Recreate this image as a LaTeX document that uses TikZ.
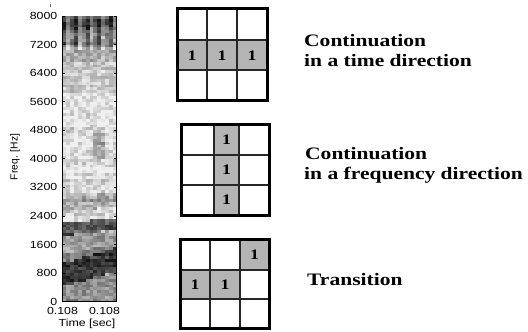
\documentclass[tikz,border=0pt]{standalone}
\usepackage{fontspec}
\setmainfont{Liberation Serif}
\newfontfamily\capfont[FakeStretch=1.23]{Liberation Serif}
\newfontfamily\lblfont[FakeStretch=1.2]{Liberation Sans}
\newfontfamily\lblplain{Liberation Sans}
\definecolor{cellgray}{RGB}{180,180,180}
\begin{document}
\begin{tikzpicture}[x=1pt,y=-1pt,
  caption/.style={anchor=base west,inner sep=0pt,font={\capfont\bfseries\fontsize{17.5}{20}\selectfont}},
  num/.style={inner sep=0pt,font={\capfont\bfseries\fontsize{14.5}{16}\selectfont}},
  lbl/.style={inner sep=0pt,font={\lblfont\fontsize{10.3}{12}\selectfont}},
  innerline/.style={line width=1.4pt,black!85},
  outerline/.style={line width=3pt,black},
  axisline/.style={line width=0.9pt,black}]
\useasboundingbox (0,0) rectangle (528,332);

% ---------- spectrogram ----------
\pgfmathsetseed{3}
\foreach \r in {0,...,99}{
  \pgfmathsetmacro\rn{0.18*(rnd-0.5)}
  \foreach \c in {0,...,13}{
    \pgfmathsetmacro\f{8000-(\r+0.5)*80}
    \pgfmathsetmacro\fe{\f<1500 ? \f-380*\c/13 : (\f<3200 ? \f-150*\c/13 : \f)}
    \pgfmathsetmacro\base{\fe>7600?0.58:(\fe>7200?0.45:(\fe>6600?0.3:(\fe>5800?0.22:(\fe>3400?0.12:(\fe>2900?0.22:(\fe>2500?0.36:(\fe>2200?0.2:(\fe>1850?0.68:(\fe>1300?0.36:(\fe>1100?0.48:(\fe>450?0.82:0.45)))))))))))}
    \pgfmathsetmacro\st{(\f>7000)*(mod(\c,3)==0 ? 0.25 : (mod(\c,3)==1 ? -0.12 : 0.05))}
    \pgfmathsetmacro\bl{(\f>4000)*(\f<4700)*(\c>7)*(\c<11)*0.25}
    \pgfmathsetmacro\d{max(0.06,min(0.92,\base+\st+\bl+\rn+0.26*(rnd-0.5)))}
    \pgfmathsetmacro\p{100*\d}
    \fill[black!\p] (62.3+\c*3.886,16+\r*2.857) rectangle ++(4.2,3.1);
  }
}
\draw[axisline] (62.3,16) -- (62.3,301.7) -- (116.7,301.7) -- (116.7,16);
\foreach \k in {0,...,10}{
  \pgfmathtruncatemacro\v{\k*800}
  \pgfmathsetmacro\yy{301.7-\k*28.57}
  \draw[axisline] (62.3,\yy) -- ++(2.5,0);
  \draw[axisline] (116.7,\yy) -- ++(-2.5,0);
  \node[lbl,anchor=east] (lab\k) at (57.5,\yy) {\v};
}
\draw[black!60,line width=0.7pt] (50.6,3.5) -- (50.6,7.2);
\node[lbl] (tl) at (62.5,311) {0.108};
\node[lbl] (tr) at (104.5,311) {0.108};
\node[lbl] (tlabel) at (87,324) {Time [sec]};
\node[inner sep=0pt,font={\lblplain\fontsize{10.3}{12}\selectfont},rotate=90] (flabel) at (15,157) {Freq. [Hz]};

% ---------- grid 1 ----------
\fill[cellgray] (177,40) rectangle (267,70);
\draw[innerline] (207,8) -- (207,100) (237,8) -- (237,100) (177,40) -- (267,40) (177,70) -- (267,70);
\draw[outerline] (177,8) rectangle (267,100);
\node[num] (a1) at (192,55.5) {1};
\node[num] (a2) at (222,55.5) {1};
\node[num] (a3) at (252,55.5) {1};

% ---------- grid 2 ----------
\fill[cellgray] (214,124) rectangle (239,215);
\draw[innerline] (214,124) -- (214,215) (239,124) -- (239,215) (181,155) -- (269,155) (181,185) -- (269,185);
\draw[outerline] (181,124) rectangle (269,215);
\node[num] (b1) at (226.5,140) {1};
\node[num] (b2) at (226.5,170) {1};
\node[num] (b3) at (226.5,200) {1};

% ---------- grid 3 ----------
\fill[cellgray] (240,239) rectangle (269,270);
\fill[cellgray] (180,270) rectangle (240,299);
\draw[innerline] (210,239) -- (210,328) (240,239) -- (240,328) (180,270) -- (269,270) (180,299) -- (269,299);
\draw[outerline] (180,239) rectangle (269,328);
\node[num] (c1) at (254.5,255) {1};
\node[num] (c2) at (195,285) {1};
\node[num] (c3) at (225,285) {1};

% ---------- captions ----------
\node[caption] (t1a) at (304,46.7) {Continuation};
\node[caption] (t1b) at (304,66.7) {in a time direction};
\node[caption] (t2a) at (305,159) {Continuation};
\node[caption] (t2b) at (304,179) {in a frequency direction};
\node[caption] (t3) at (307,285) {Transition};
\end{tikzpicture}
\end{document}
